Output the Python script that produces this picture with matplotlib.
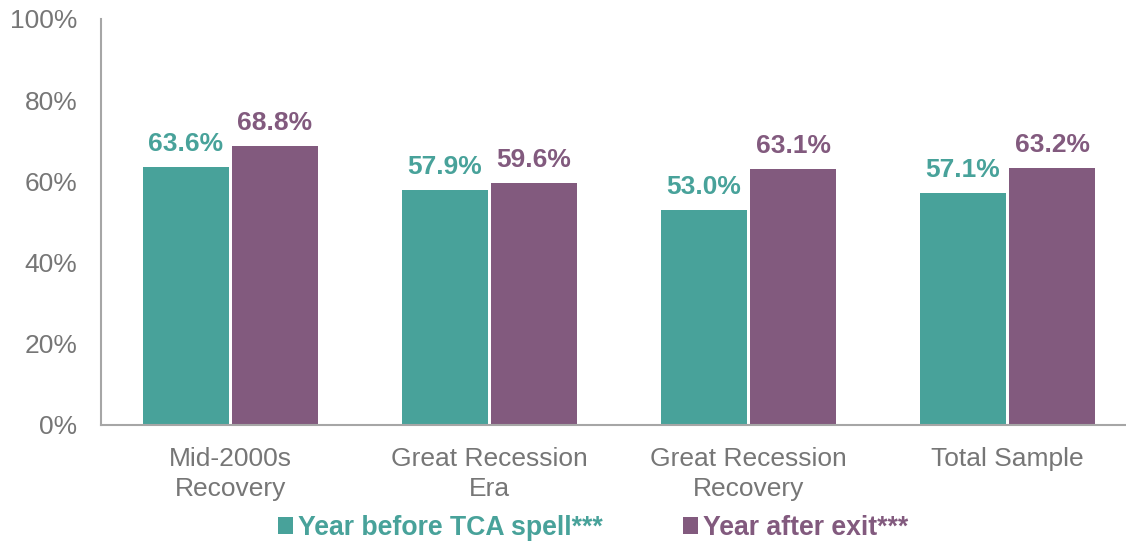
import matplotlib
matplotlib.use("Agg")
import matplotlib.pyplot as plt
import numpy as np

plt.rcParams['font.family'] = ['Liberation Sans', 'DejaVu Sans']

# data
categories = ['Mid-2000s\nRecovery', 'Great Recession\nEra', 'Great Recession\nRecovery', 'Total Sample']
before_tca = [63.6, 57.9, 53.0, 57.1]
after_exit = [68.8, 59.6, 63.1, 63.2]
series_names = ['Year before TCA spell***', 'Year after exit***']

teal = '#48A29A'
purple = '#825A7E'
gray = '#767676'

fig = plt.figure(figsize=(11.26, 5.42), dpi=100)
ax = fig.add_axes([101 / 1126, 1 - 425 / 542, 1036 / 1126, (425 - 19) / 542])

x = np.arange(len(categories))
w = 0.332
b1 = ax.bar(x - 0.172, before_tca, w, color=teal, label=series_names[0])
b2 = ax.bar(x + 0.172, after_exit, w, color=purple, label=series_names[1])

ax.bar_label(b1, labels=['%.1f%%' % v for v in before_tca], padding=8,
             color=teal, fontsize=19, fontweight='bold')
ax.bar_label(b2, labels=['%.1f%%' % v for v in after_exit], padding=8,
             color=purple, fontsize=19, fontweight='bold')

ax.set_xlim(-0.5, 3.5)
ax.set_ylim(0, 100)
ax.set_yticks(np.arange(0, 101, 20))
ax.set_yticklabels(['%d%%' % v for v in range(0, 101, 20)])
ax.set_xticks(x)
ax.set_xticklabels(categories)
ax.tick_params(axis='y', length=0, pad=17, labelsize=19, labelcolor=gray)
ax.tick_params(axis='x', length=0, pad=16, labelsize=19, labelcolor=gray)
for tl in ax.get_xticklabels():
    tl.set_linespacing(1.3)

for s in ['top', 'right']:
    ax.spines[s].set_visible(False)
for s in ['left', 'bottom']:
    ax.spines[s].set_color('#A6A6A6')
    ax.spines[s].set_linewidth(1.5)

leg = fig.legend(handles=[b1, b2], loc='center', bbox_to_anchor=(0.527, 0.026),
                 ncol=2, frameon=False, handlelength=0.55,
                 handleheight=0.55, handletextpad=0.2, columnspacing=3.0,
                 prop={'weight': 'bold', 'size': 19.2})
for t, c in zip(leg.get_texts(), [teal, purple]):
    t.set_color(c)

fig.savefig('out.png', dpi=100)
